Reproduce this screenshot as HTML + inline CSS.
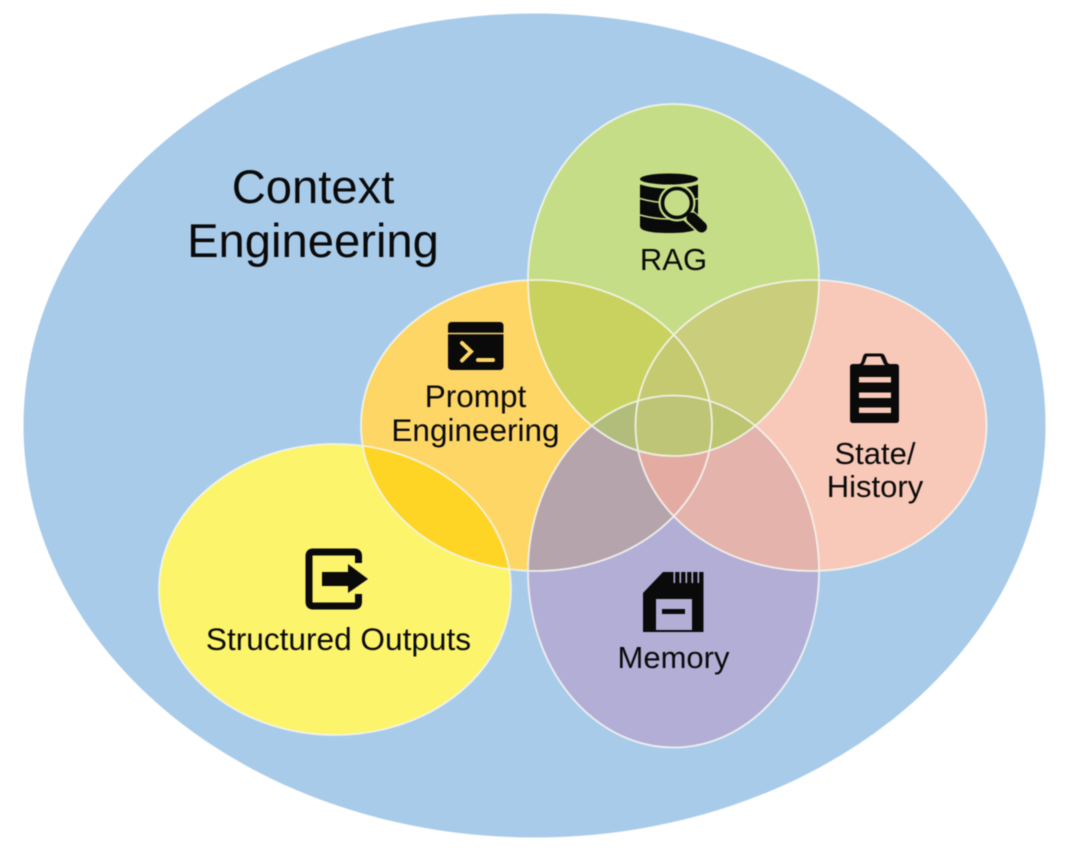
<!DOCTYPE html>
<html>
<head>
<meta charset="utf-8">
<style>
html,body{margin:0;padding:0;background:#fff;width:1080px;height:859px;overflow:hidden}
svg{display:block;filter:blur(0.45px)}
text{font-family:"Liberation Sans",sans-serif;fill:#0a0a0a;text-anchor:middle}
</style>
</head>
<body>
<svg width="1080" height="859" viewBox="0 0 1080 859" xmlns="http://www.w3.org/2000/svg">
<defs>
<clipPath id="cG"><ellipse cx="673.5" cy="280" rx="145.5" ry="176"/></clipPath>
<clipPath id="cP"><ellipse cx="673.5" cy="571.5" rx="145.5" ry="176"/></clipPath>
<clipPath id="cO"><ellipse cx="536.5" cy="425.5" rx="175.5" ry="145.5"/></clipPath>
<clipPath id="cS"><ellipse cx="811" cy="425.5" rx="175.5" ry="145.5"/></clipPath>
<clipPath id="cY"><ellipse cx="335" cy="589.5" rx="176" ry="145.5"/></clipPath>
</defs>
<ellipse cx="534.5" cy="425.5" rx="511" ry="412" fill="#a9cbea"/>
<ellipse cx="335" cy="589.5" rx="176" ry="145.5" fill="#fcf46b"/>
<ellipse cx="536.5" cy="425.5" rx="175.5" ry="145.5" fill="#fed666"/>
<ellipse cx="811" cy="425.5" rx="175.5" ry="145.5" fill="#f8c8b8"/>
<ellipse cx="673.5" cy="571.5" rx="145.5" ry="176" fill="#b3aed6"/>
<ellipse cx="673.5" cy="280" rx="145.5" ry="176" fill="#c5dd87"/>
<g clip-path="url(#cO)"><rect clip-path="url(#cY)" width="1080" height="859" fill="#fed524"/></g>
<g clip-path="url(#cO)"><rect clip-path="url(#cG)" width="1080" height="859" fill="#c9d25f"/></g>
<g clip-path="url(#cS)"><rect clip-path="url(#cG)" width="1080" height="859" fill="#c9cd7c"/></g>
<g clip-path="url(#cO)"><rect clip-path="url(#cP)" width="1080" height="859" fill="#b6a4ad"/></g>
<g clip-path="url(#cS)"><rect clip-path="url(#cP)" width="1080" height="859" fill="#e4b3ac"/></g>
<g clip-path="url(#cO)"><g clip-path="url(#cS)"><rect clip-path="url(#cG)" width="1080" height="859" fill="#c5c96f"/></g></g>
<g clip-path="url(#cO)"><g clip-path="url(#cS)"><rect clip-path="url(#cP)" width="1080" height="859" fill="#e4aba3"/></g></g>
<g clip-path="url(#cP)"><g clip-path="url(#cG)"><rect clip-path="url(#cO)" width="1080" height="859" fill="#b2bd7c"/></g></g>
<g clip-path="url(#cP)"><g clip-path="url(#cG)"><rect clip-path="url(#cS)" width="1080" height="859" fill="#bcc570"/></g></g>
<g clip-path="url(#cP)"><g clip-path="url(#cG)"><g clip-path="url(#cO)"><rect clip-path="url(#cS)" width="1080" height="859" fill="#bfc577"/></g></g></g>
<g fill="none" stroke="#f4f6f0" stroke-width="1.8" opacity="0.9">
<ellipse cx="335" cy="589.5" rx="176" ry="145.5"/>
<ellipse cx="536.5" cy="425.5" rx="175.5" ry="145.5"/>
<ellipse cx="811" cy="425.5" rx="175.5" ry="145.5"/>
<ellipse cx="673.5" cy="571.5" rx="145.5" ry="176"/>
<ellipse cx="673.5" cy="280" rx="145.5" ry="176"/>
</g>

<!-- RAG icon -->
<ellipse cx="669" cy="179" rx="29" ry="5.5" fill="#0a0a0a"/>
<path d="M640 184.5 Q669 193 698 184.5 V226 Q698 233 669 233 Q640 233 640 226 Z" fill="#0a0a0a"/>
<path d="M640 198.5 Q669 207 698 198.5 M640 215 Q669 223 698 215" fill="none" stroke="#c5dd87" stroke-width="1.6"/>
<circle cx="677" cy="203" r="18.5" fill="#c5dd87"/>
<line x1="689" y1="216" x2="701.5" y2="227" stroke="#c5dd87" stroke-width="14" stroke-linecap="round"/>
<line x1="692" y1="218" x2="701.5" y2="227" stroke="#0a0a0a" stroke-width="11" stroke-linecap="round"/>
<circle cx="677" cy="203" r="14.5" fill="#c5dd87" stroke="#0a0a0a" stroke-width="3.6"/>

<!-- Prompt icon -->
<rect x="448" y="322" width="55.5" height="48" rx="3.5" fill="#0a0a0a"/>
<line x1="448" y1="333.5" x2="503.5" y2="333.5" stroke="#fed666" stroke-width="1.5"/>
<path d="M462 343 L471 351.5 L462 360.5" fill="none" stroke="#fed666" stroke-width="4" stroke-linecap="round" stroke-linejoin="miter"/>
<line x1="478" y1="360" x2="493" y2="360" stroke="#fed666" stroke-width="4" stroke-linecap="round"/>

<!-- Clipboard icon -->
<path d="M866 353.5 H881 Q884 353.5 885 356.5 L886.5 360 Q887.5 364 890 364 H896 Q899 364 899 367 V420 Q899 423 896 423 H853 Q850 423 850 420 V367 Q850 364 853 364 H859 Q861 364 862 360 L863 356.5 Q864 353.5 866 353.5 Z" fill="#0a0a0a"/>
<path d="M867 356.5 H880.5 L883 362 Q883.5 364 885 365 H863 Q864.5 364 865 362 Z" fill="#f8c8b8"/>
<rect x="859" y="377" width="32" height="5.5" fill="#f8c8b8"/>
<rect x="859" y="392.5" width="32" height="5.5" fill="#f8c8b8"/>
<rect x="859" y="407.5" width="32" height="5.5" fill="#f8c8b8"/>

<!-- Memory icon -->
<path d="M643 593 L663 572 H703.5 V632 H643 Z" fill="#0a0a0a"/>
<g fill="#b3aed6">
<rect x="673.5" y="571" width="1.6" height="12"/>
<rect x="679.5" y="571" width="1.6" height="12"/>
<rect x="685.5" y="571" width="1.6" height="12"/>
<rect x="691.5" y="571" width="1.6" height="12"/>
<rect x="697.5" y="571" width="1.6" height="12"/>
<rect x="656" y="599" width="36" height="31"/>
</g>
<rect x="662" y="609" width="23" height="5" fill="#0a0a0a"/>

<!-- Exit icon -->
<path d="M358.5 563 V556 Q358.5 552 354.5 552 H313 Q309 552 309 556 V602 Q309 606 313 606 H354.5 Q358.5 606 358.5 602 V594" fill="none" stroke="#0a0a0a" stroke-width="7"/>
<path d="M322 572 H348 V564 L368 579 L348 593 V586 H322 Z" fill="#0a0a0a"/>

<!-- Labels -->
<text x="313" y="203" font-size="47.2">Context</text>
<text x="313" y="257" font-size="47.2">Engineering</text>
<text x="673.5" y="270" font-size="31">RAG</text>
<text x="475.5" y="407" font-size="31.5">Prompt</text>
<text x="475.5" y="441" font-size="31.5">Engineering</text>
<text x="875" y="464" font-size="31">State/</text>
<text x="875" y="497" font-size="31">History</text>
<text x="673.5" y="668" font-size="31">Memory</text>
<text x="338.5" y="650" font-size="31.6">Structured Outputs</text>
</svg>
</body>
</html>
